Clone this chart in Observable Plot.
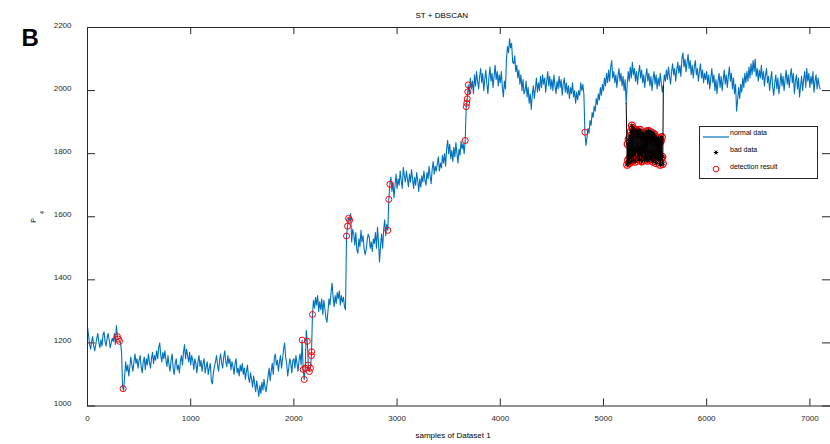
<!DOCTYPE html>
<html><head><meta charset="utf-8">
<script src="https://cdn.jsdelivr.net/npm/d3@7"></script>
<script src="https://cdn.jsdelivr.net/npm/@observablehq/plot@0.6"></script>
<style>
body{margin:0;background:#fff;}
#wrap{position:relative;width:830px;height:444px;overflow:hidden;font-family:"Liberation Sans",Arial,sans-serif;}
#legend{position:absolute;left:699px;top:126px;width:117px;height:51px;border:1px solid #262626;background:#fff;}
#legend svg{display:block;}
</style></head><body><div id="wrap"></div>
<script>
// ---- data ----
const xTicks = [0, 1000, 2000, 3000, 4000, 5000, 6000, 7000];
const yTicks = [1000, 1200, 1400, 1600, 1800, 2000, 2200];

// normal data: one value every 10 samples, starting at sample 0 (25 values = 250 samples per row)
const normalStart = 0, normalStep = 10;
const normalValues = [
  1250,1225,1195,1180,1205, 1220,1190,1175,1195,1215, 1230,1200,1185,1210,1190, 1225,1235,1205,1190,1215, 1230,1210,1185,1200,1215, // 0
  1205,1230,1195,1255,1220, 1212,1205,1200,1170,1060, 1050,1095,1140,1110,1130, 1095,1125,1155,1130,1110, 1140,1165,1135,1150,1120, // 250
  1145,1160,1125,1105,1140, 1155,1115,1150,1130,1165, 1140,1120,1150,1170,1135, 1160,1145,1175,1150,1185, 1200,1160,1140,1170,1150, // 500
  1175,1145,1125,1160,1130, 1110,1145,1165,1120,1100, 1135,1150,1115,1130,1105, 1140,1160,1130,1170,1195, 1150,1180,1160,1140,1170, // 750
  1130,1160,1145,1115,1150, 1135,1105,1140,1160,1125, 1145,1110,1135,1150,1105, 1125,1140,1100,1120,1135, 1080,1070,1105,1125,1140, // 1000
  1160,1130,1110,1145,1165, 1135,1120,1155,1175,1140, 1125,1160,1135,1150,1115, 1140,1125,1100,1135,1150, 1105,1120,1095,1130,1110, // 1250
  1135,1100,1120,1085,1110, 1130,1090,1075,1105,1085, 1060,1095,1070,1045,1080, 1055,1030,1065,1040,1075, 1050,1085,1060,1045,1070, // 1500
  1095,1120,1080,1110,1135, 1100,1150,1165,1130,1145, 1110,1140,1160,1120,1150, 1180,1200,1155,1135,1095, 1120,1150,1135,1105,1145, // 1750
  1150,1120,1160,1135,1110, 1145,1165,1130,1209,1116, 1084,1120,1240,1205,1130, 1109,1120,1160,1290,1335, 1310,1345,1320,1350,1300, // 2000
  1330,1305,1340,1290,1335, 1310,1280,1265,1300,1340, 1320,1360,1390,1345,1315, 1350,1325,1360,1340,1365, 1320,1350,1330,1345,1315, // 2250
  1305,1539,1570,1595,1589, 1610,1520,1560,1546,1510, 1550,1495,1484,1530,1505, 1557,1520,1540,1500,1480, 1494,1525,1545,1536,1500, // 2500
  1520,1490,1530,1515,1550, 1500,1567,1520,1457,1510, 1545,1500,1560,1590,1540, 1575,1557,1655,1703,1726, 1680,1710,1660,1700,1735, // 2750
  1690,1720,1700,1745,1715, 1690,1757,1730,1710,1745, 1720,1695,1735,1710,1750, 1720,1690,1725,1700,1740, 1715,1680,1720,1694,1730, // 3000
  1710,1745,1715,1700,1740, 1720,1760,1730,1705,1750, 1775,1735,1760,1745,1769, 1790,1745,1770,1755,1795, 1770,1800,1760,1815,1842, // 3250
  1800,1830,1785,1810,1775, 1820,1790,1835,1800,1770, 1815,1795,1840,1815,1832, 1800,1842,1949,1974,2018, 1990,2040,2005,2030,1990, // 3500
  2050,2015,2060,2030,2005, 2045,2070,2025,2055,2000, 2035,2065,2020,1990,2040, 2075,2030,2055,2010,2045, 2080,2035,2060,2015,2050, // 3750
  2025,2060,2010,1980,2030, 2005,2100,2140,2120,2164, 2135,2150,2090,2085,2110, 2060,2080,2040,2065,2020, 2050,2000,2035,1990,2000, // 4000
  2030,1980,2010,1960,1990, 1940,1985,2015,1975,2005, 2040,1995,2025,2000,2045, 2010,2050,2020,2040,1995, 2030,2060,2015,2045,2005, // 4250
  2035,2000,2050,2015,1990, 2030,2005,2045,2010,2035, 1985,2020,2040,1995,2025, 1990,2015,1975,2010,1990, 2025,1980,2000,1960,1995, // 4500
  1970,2000,1985,2025,2000, 2020,1990,1868,1826,1850, 1880,1865,1905,1890,1930, 1915,1950,1935,1975,1955, 1990,1970,2010,1985,2020, // 4750
  2000,2040,2015,2055,2025, 2065,2030,2075,2095,2040, 2060,2025,2050,2010,2045, 2070,2030,2055,2015,2045, 2000,2035,1960,2020,2060, // 5000
  2030,2075,2040,2090,2050, 2070,2030,2060,2020,2055, 2080,2040,2065,2025,2050, 2010,2045,2070,2030,2055, 2015,2045,2000,2035,2060, // 5250
  2020,2050,2005,2040,2015, 2055,2025,1995,2015,2050, 2030,2065,2035,2075,2045, 2020,2060,2085,2050,2070, 2030,2065,2090,2055,2080, // 5500
  2045,2100,2120,2075,2100, 2060,2090,2115,2070,2095, 2050,2080,2040,2075,2095, 2050,2070,2030,2060,2085, 2040,2065,2025,2055,2035, // 5750
  2060,2020,2050,2005,2040, 2070,2025,2050,2000,2035, 1990,2030,2055,2010,2045, 2000,2035,2065,2020,2050, 2010,2045,2075,2030,2055, // 6000
  2005,2040,1990,2020,1935, 1970,2010,1975,2020,1995, 2040,2010,2055,2025,2060, 2030,2075,2040,2085,2050, 2095,2060,2100,2045,2070, // 6250
  2030,2065,2040,2080,2035, 2060,2015,2050,2070,2025, 2045,2000,2035,2060,2010, 1985,2025,2050,2005,2040, 1990,2020,2055,2015,2045, // 6500
  2000,2035,2065,2020,2050, 2010,2045,2070,2025,2055, 1990,2030,2050,2005,2040, 1980,2015,2045,2000,2035, 2060,2010,2070,2030,2055, // 6750
  2010,2045,2020,2060,1995, 2030,2050,2005,2040,2015, 2005                                                                       // 7000
];

// bad data block: one value every 5 samples from sample 5230
const badEntry = [5220, 1960];
const badExit = [5580, 2015];
const badStart = 5230, badStep = 5;
const badValues = [
  1765,1830,1780,1845,1770, 1855,1790,1870,1775,1889, 1795,1880,1780,1870,1800, 1860,1775,1875,1810,1865,
  1785,1870,1795,1862,1780, 1875,1800,1858,1776,1866, 1790,1855,1805,1862,1780, 1848,1795,1870,1785,1858,
  1778,1872,1800,1860,1790, 1868,1782,1855,1800,1865, 1775,1850,1795,1860,1785, 1845,1770,1850,1790,1842,
  1780,1848,1795,1835,1765, 1840,1785,1852,1790,1768
];

// detection results outside the bad block (sample, value)
const detX = [290,300,310,345, 2080,2090,2100,2110,2130,2140,2150,2160,2170,2172,2180,
              2510,2520,2530,2540, 2910,2920,2930, 3660,3670,3675,3680,3685,3690, 4820];
const detY = [1220,1212,1205,1055, 1209,1116,1084,1120,1205,1130,1109,1120,1160,1172,1290,
              1539,1570,1595,1589, 1557,1655,1703, 1842,1949,1960,1974,1996,2018, 1868];

// ---- build tables ----
const normal = normalValues.map((v, i) => ({x: normalStart + i * normalStep, y: v}));
const block = badValues.map((v, i) => ({x: badStart + i * badStep, y: v}));
const bad = [{x: badEntry[0], y: badEntry[1]}, ...block, {x: badExit[0], y: badExit[1]}];
const jumps = detX.map((x, i) => ({x, y: detY[i]}));

const W = 830, H = 444, mT = 27, mB = 38.5, mL = 87, mR = 0;
const frameH = H - mT - mB, frameW = W - mL - mR;
const ink = "#262626";

const chart = Plot.plot({
  width: W, height: H,
  marginTop: mT, marginBottom: mB, marginLeft: mL, marginRight: mR,
  x: {domain: [0, 7200], label: null},
  y: {domain: [1000, 2200], label: null},
  style: {fontFamily: "'Liberation Sans', Arial, sans-serif", fontSize: "8px", color: ink, background: "#fff", overflow: "visible"},
  marks: [
    Plot.axisX(xTicks, {tickSize: 0, tickPadding: 9, tickFormat: d => String(d), label: null, fill: ink}),
    Plot.axisY(yTicks, {tickSize: 0, tickPadding: 16, dy: -2.5, tickFormat: d => String(d), label: null, fill: ink}),
    Plot.tickX(xTicks, {x: d => d, insetTop: frameH - 7, stroke: ink}),
    Plot.tickX(xTicks, {x: d => d, insetBottom: frameH - 7, stroke: ink}),
    Plot.tickY(yTicks, {y: d => d, insetRight: frameW - 8, stroke: ink}),
    Plot.tickY(yTicks, {y: d => d, insetLeft: frameW - 8, stroke: ink}),
    Plot.line(normal, {x: "x", y: "y", stroke: "#0072BD", strokeWidth: 1.1}),
    Plot.dot(jumps, {x: "x", y: "y", r: 3, stroke: "#ff0000", strokeWidth: 1}),
    Plot.dot(block, {x: "x", y: "y", r: 3.5, stroke: "#ff0000", strokeWidth: 1.3}),
    Plot.line(bad, {x: "x", y: "y", stroke: "#000", strokeWidth: 1}),
    Plot.dot(block, {x: "x", y: "y", symbol: "asterisk", r: 2.2, stroke: "#000", strokeWidth: 1}),
    Plot.frame({stroke: ink, strokeWidth: 1}),
    Plot.text(["ST + DBSCAN"], {text: d => d, frameAnchor: "top-left", dx: 328, dy: -15, fontSize: 8, fill: "#000"}),
    Plot.text(["samples of Dataset 1"], {text: d => d, frameAnchor: "bottom-left", dx: 328, dy: 31.5, fontSize: 8, fill: "#000"}),
    Plot.text(["P"], {text: d => d, frameAnchor: "left", dx: -54, dy: 6, rotate: -90, fontSize: 7, fill: "#000"}),
    Plot.text(["4"], {text: d => d, frameAnchor: "left", dx: -45, dy: -2.5, rotate: -90, fontSize: 6, fill: "#000"}),
    Plot.text(["B"], {text: d => d, frameAnchor: "top-left", dx: -66, dy: 1.5, fontSize: 24, fontWeight: "bold", fill: "#000"})
  ]
});

const wrap = document.getElementById("wrap");
wrap.appendChild(chart);

// legend (HTML overlay, like the boxed legend of the original)
const legend = document.createElement("div");
legend.id = "legend";
legend.innerHTML = `<svg width="117" height="51" font-family="'Liberation Sans', Arial, sans-serif" font-size="7">
  <line x1="3" x2="29" y1="10" y2="10" stroke="#0072BD" stroke-width="1.2"/>
  <text x="30" y="6" dominant-baseline="middle">normal data</text>
  <g transform="translate(16,25.5)" stroke="#000" stroke-width="1">
    <line x1="-2.2" x2="2.2" y1="0" y2="0"/><line x1="-1.1" x2="1.1" y1="-1.9" y2="1.9"/><line x1="-1.1" x2="1.1" y1="1.9" y2="-1.9"/>
  </g>
  <text x="30" y="23" dominant-baseline="middle">bad data</text>
  <circle cx="16" cy="42" r="2.8" fill="none" stroke="#ff0000" stroke-width="1"/>
  <text x="30" y="40" dominant-baseline="middle">detection result</text>
</svg>`;
wrap.appendChild(legend);
</script></body></html>
